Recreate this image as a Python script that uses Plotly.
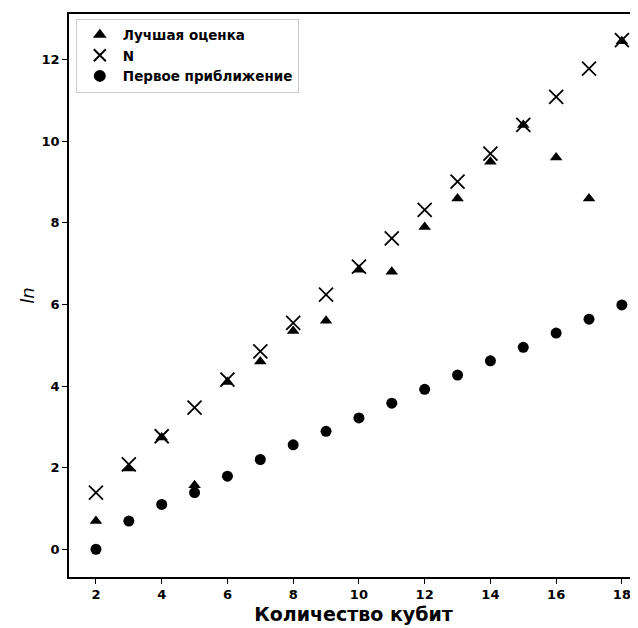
import plotly.graph_objects as go

qubits = list(range(2, 19))
best_estimate = [0.69, 1.98, 2.74, 1.57, 4.10, 4.60, 5.35, 5.60, 6.85, 6.80, 7.90, 8.60, 9.50, 10.40, 9.60, 8.60, 12.45]
n_values = [1.39, 2.08, 2.77, 3.47, 4.16, 4.85, 5.55, 6.24, 6.93, 7.62, 8.32, 9.01, 9.70, 10.40, 11.09, 11.78, 12.48]
first_approx = [0.0, 0.69, 1.10, 1.39, 1.79, 2.20, 2.56, 2.89, 3.22, 3.58, 3.92, 4.27, 4.62, 4.95, 5.30, 5.64, 5.99]

x_ticks = [2, 4, 6, 8, 10, 12, 14, 16, 18]
y_ticks = [0, 2, 4, 6, 8, 10, 12]

fig = go.Figure()
fig.add_trace(go.Scatter(x=qubits, y=best_estimate, mode="markers", name="Лучшая оценка",
                         marker=dict(symbol="triangle-up", size=11, color="black")))
fig.add_trace(go.Scatter(x=qubits, y=n_values, mode="markers", name="N",
                         marker=dict(symbol="x-thin", size=14, color="black",
                                     line=dict(width=1.8, color="black"))))
fig.add_trace(go.Scatter(x=qubits, y=first_approx, mode="markers", name="Первое приближение",
                         marker=dict(symbol="circle", size=11, color="black")))

fig.update_layout(
    width=638, height=628,
    margin=dict(l=61, r=8, t=4, b=59),
    paper_bgcolor="white", plot_bgcolor="white",
    font=dict(family="DejaVu Sans", color="black"),
    showlegend=True,
    legend=dict(x=0.012, y=0.992, xanchor="left", yanchor="top",
                bgcolor="white", bordercolor="#cccccc", borderwidth=1,
                font=dict(size=13.5, family="DejaVu Sans", color="black", weight="bold"),
                tracegroupgap=0, itemsizing="constant", itemwidth=36),
)
fig.update_xaxes(range=[1.18, 18.49], tickvals=x_ticks, ticktext=[str(v) for v in x_ticks],
                 showgrid=False, zeroline=False, showline=True, linecolor="black", linewidth=1.5,
                 mirror=True, ticks="outside", ticklen=5, tickcolor="black",
                 tickfont=dict(size=13, family="DejaVu Sans", weight="bold"),
                 title=dict(text="Количество кубит", font=dict(size=19, family="DejaVu Sans", weight="bold"),
                            standoff=6))
fig.update_yaxes(range=[-0.68, 13.12], tickvals=y_ticks, ticktext=[str(v) for v in y_ticks],
                 showgrid=False, zeroline=False, showline=True, linecolor="black", linewidth=1.5,
                 mirror=True, ticks="outside", ticklen=5, tickcolor="black",
                 tickfont=dict(size=13, family="DejaVu Sans", weight="bold"),
                 title=dict(text="<i>ln</i>", font=dict(size=18, family="DejaVu Sans"), standoff=2))

fig.write_html("out.html")
